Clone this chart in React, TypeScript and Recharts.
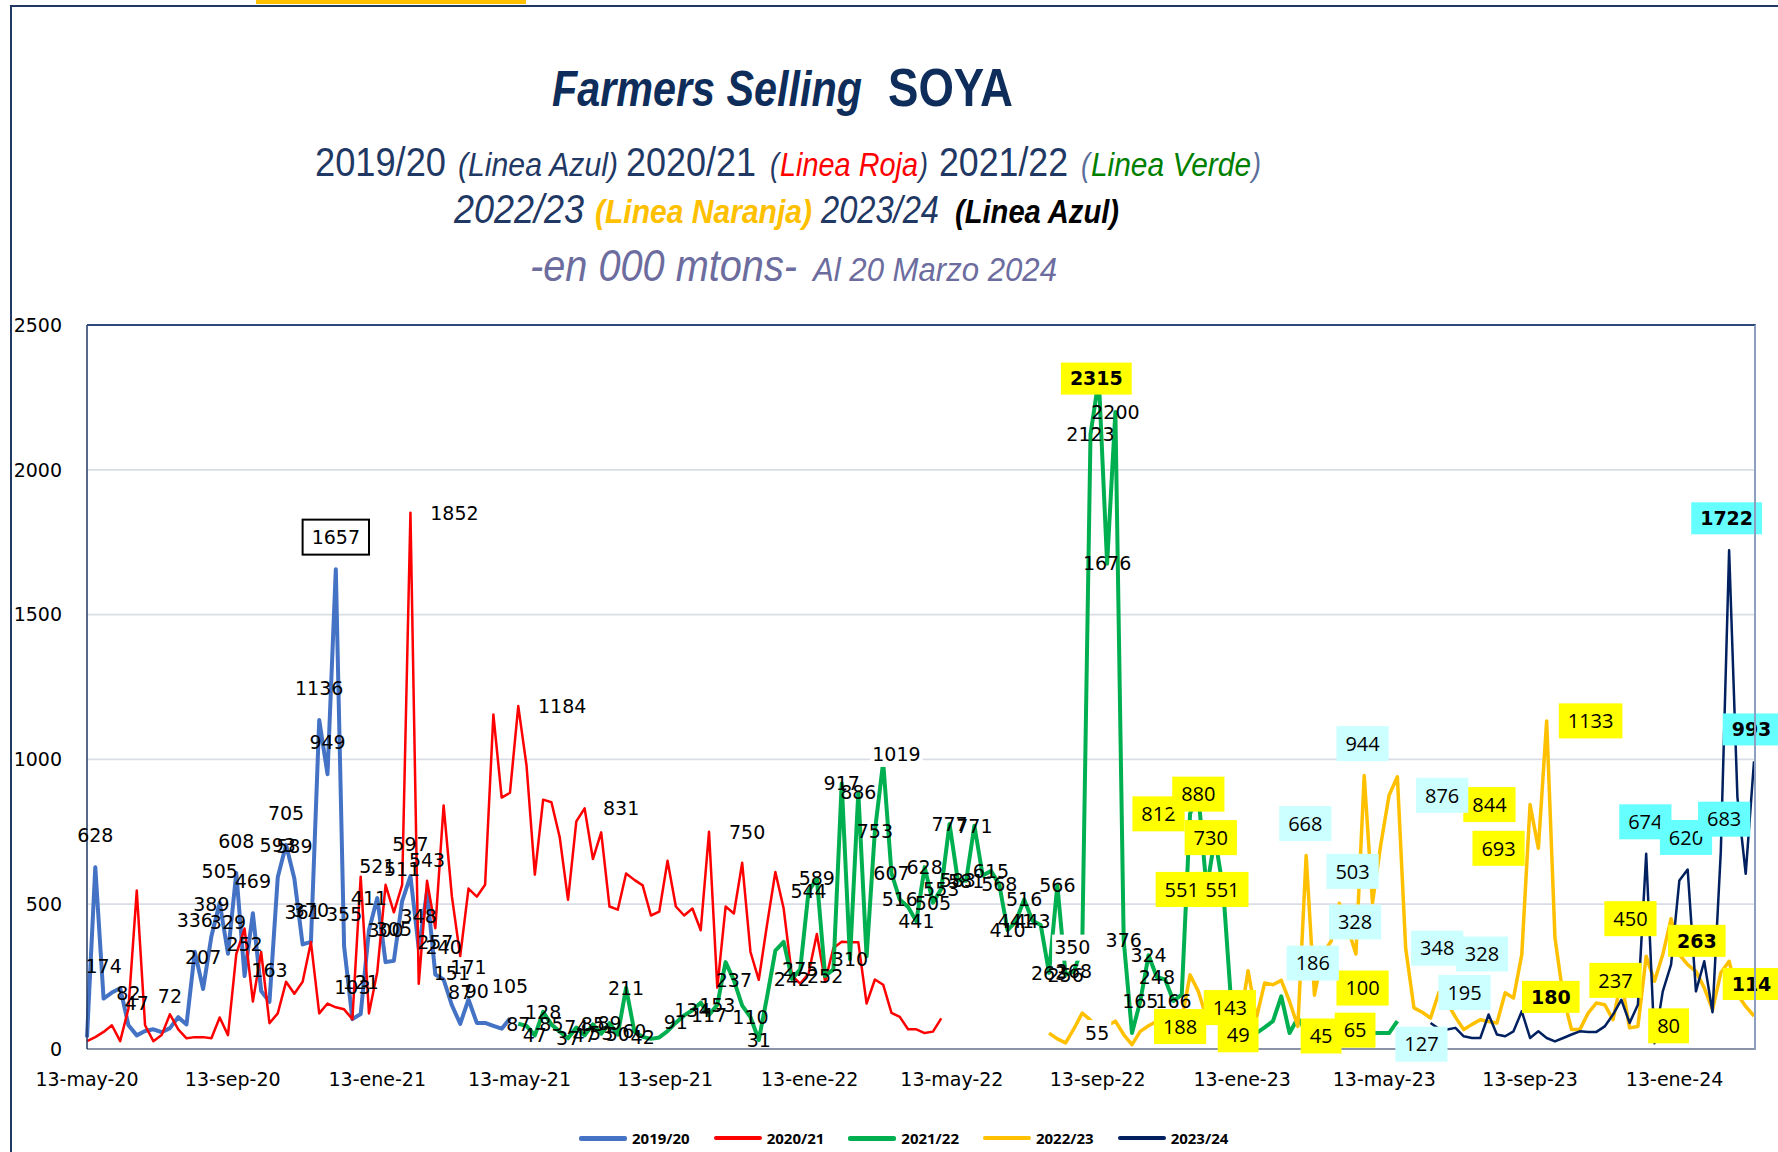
import React from 'react';
import { LineChart, Line, XAxis, YAxis, CartesianGrid, ReferenceDot } from 'recharts';

// x axis is in days from 13-may-20, one point per week
const xTickDays = [0, 123, 245, 365, 488, 610, 730, 853, 975, 1095, 1218, 1340];
const xTickLabels = ['13-may-20', '13-sep-20', '13-ene-21', '13-may-21', '13-sep-21', '13-ene-22', '13-may-22', '13-sep-22', '13-ene-23', '13-may-23', '13-sep-23', '13-ene-24'];
const yTicks = [0, 500, 1000, 1500, 2000, 2500];

const seasons = ['2019/20', '2020/21', '2021/22', '2022/23', '2023/24'];
const lineColors = ['#4472C4', '#FF0000', '#00B050', '#FFC000', '#002060'];
const lineWidths = [4, 2.5, 4, 3.5, 2.5];

// first week index of each season
const blueStart = 0;
const redStart = 0;
const greenStart = 52;
const orangeStart = 116;
const navyStart = 162;

const blue = [40, 628, 174, 195, 210, 82, 47, 62, 68, 58, 72, 110, 85, 336, 207, 389, 505, 329, 608, 252, 469, 200, 163, 593, 705, 589, 361, 370, 1136, 949, 1657, 355, 103, 121, 411, 521, 300, 305, 511, 597, 348, 543, 257, 240, 151, 87, 171, 90, 90, 80, 70, 105];

const red = [27, 41, 59, 82, 27, 140, 547, 82, 27, 48, 120, 68, 37, 41, 41, 37, 109, 48, 328, 416, 164, 335, 89, 123, 232, 191, 232, 369, 123, 157, 144, 137, 103, 595, 123, 266, 567, 472, 567, 1852, 225, 581, 417, 841, 526, 321, 554, 526, 567, 1155, 868, 885, 1184, 978, 602, 861, 852, 731, 515, 786, 831, 656, 748, 492, 481, 606, 584, 565, 461, 474, 650, 492, 461, 485, 410, 750, 212, 492, 468, 643, 335, 239, 430, 611, 485, 253, 226, 260, 397, 233, 349, 370, 369, 369, 157, 240, 222, 125, 111, 68, 68, 55, 60, 106];

const green = [87, 80, 47, 128, 85, 60, 37, 74, 47, 85, 53, 89, 50, 211, 60, 42, 35, 40, 62, 91, 116, 134, 160, 117, 153, 300, 237, 150, 110, 31, 180, 340, 370, 242, 275, 544, 589, 252, 275, 917, 310, 886, 320, 753, 990, 607, 516, 490, 441, 628, 505, 553, 777, 583, 581, 771, 599, 615, 568, 410, 441, 516, 443, 428, 263, 566, 256, 268, 350, 2123, 2315, 1676, 2200, 376, 55, 165, 324, 248, 240, 166, 188, 812, 880, 551, 730, 551, 143, 49, 50, 55, 75, 96, 182, 55, 107, 60, 45, 50, 55, 62, 58, 65, 60, 55, 55, 55, 96];

const orange = [55, 35, 21, 70, 124, 100, 55, 80, 96, 50, 15, 61, 80, 96, 110, 80, 100, 256, 199, 107, 95, 120, 100, 90, 270, 107, 228, 222, 237, 164, 78, 668, 186, 328, 372, 503, 420, 328, 944, 505, 706, 876, 940, 348, 142, 127, 107, 195, 160, 110, 67, 85, 101, 95, 90, 194, 176, 326, 844, 693, 1133, 384, 180, 67, 67, 124, 159, 153, 101, 237, 73, 78, 320, 234, 326, 450, 326, 291, 268, 211, 136, 263, 303, 188, 147, 114];

const navy = [90, 70, 67, 73, 44, 38, 38, 119, 50, 44, 61, 130, 38, 61, 38, 26, 38, 50, 61, 59, 59, 78, 119, 170, 90, 153, 674, 20, 199, 291, 582, 620, 199, 303, 127, 683, 1722, 870, 605, 993];

// value labels: [week, text]
const blueLabels: [number, string][] = [[1, '628'], [2, '174'], [5, '82'], [6, '47'], [10, '72'], [13, '336'], [14, '207'], [15, '389'], [16, '505'], [17, '329'], [18, '608'], [19, '252'], [20, '469'], [22, '163'], [23, '593'], [24, '705'], [25, '589'], [26, '361'], [27, '370'], [28, '1136'], [29, '949'], [31, '355'], [32, '103'], [33, '121'], [34, '411'], [35, '521'], [36, '300'], [37, '305'], [38, '511'], [39, '597'], [40, '348'], [41, '543'], [42, '257'], [43, '240'], [44, '151'], [45, '87'], [46, '171'], [47, '90'], [51, '105']];
const blueMax: [number, string][] = [[30, '1657']];
const redLabels: [number, string][] = [[44.3, '1852'], [57.3, '1184'], [64.4, '831'], [79.6, '750']];
const greenLabels: [number, string][] = [[52, '87'], [54, '47'], [55, '128'], [56, '85'], [58, '37'], [59, '74'], [60, '47'], [61, '85'], [62, '53'], [63, '89'], [64, '50'], [65, '211'], [66, '60'], [67, '42'], [71, '91'], [73, '134'], [75, '117'], [76, '153'], [78, '237'], [80, '110'], [81, '31'], [85, '242'], [86, '275'], [87, '544'], [88, '589'], [89, '252'], [91, '917'], [92, '310'], [93, '886'], [95, '753'], [97, '607'], [98, '516'], [100, '441'], [101, '628'], [102, '505'], [103, '553'], [104, '777'], [105, '583'], [106, '581'], [107, '771'], [109, '615'], [110, '568'], [111, '410'], [112, '441'], [113, '516'], [114, '443'], [116, '263'], [117, '566'], [118, '256'], [119, '268'], [121, '2123'], [123, '1676'], [124, '2200'], [125, '376'], [127, '165'], [128, '324'], [129, '248'], [131, '166']];
const whiteLabels: [number, string][] = [[97.6, '1019'], [118.8, '350'], [121.8, '55']];
const yellowCenter: [number, string][] = [[121.7, '2315'], [129.2, '812'], [134, '880'], [135.5, '730'], [132, '551'], [136.9, '551'], [137.8, '143'], [138.8, '49'], [148.8, '45'], [152.9, '65'], [169.1, '844'], [170.2, '693'], [181.3, '1133'], [176.5, '180'], [184.3, '237'], [190.7, '80'], [186.1, '450']];
const yellowTop: [number, string][] = [[153.8, '100'], [194.1, '263'], [200.7, '114']];
const yellowBelow: [number, string][] = [[131.8, '188']];
const paleTop: [number, string][] = [[146.9, '668'], [147.8, '186'], [152.6, '503'], [152.9, '328'], [153.8, '944']];
const paleCenter: [number, string][] = [[163.4, '876'], [162.8, '348'], [168.2, '328'], [166.1, '195']];
const paleBelow: [number, string][] = [[160.9, '127']];
const cyanTop: [number, string][] = [[187.9, '674'], [192.8, '620'], [197.4, '683'], [197.7, '1722'], [200.7, '993']];
const boldTexts = ['2315', '180', '263', '114', '1722', '993'];

const pts = (start: number, vals: number[]) => vals.map((v, k) => ({ d: (start + k) * 7, v }));
const series = [pts(blueStart, blue), pts(redStart, red), pts(greenStart, green), pts(orangeStart, orange), pts(navyStart, navy)];

type TagStyle = { place: 't' | 'c' | 'b'; bg?: string; border?: string; os?: boolean };

function Tag(props: any) {
  const { cx, cy, text, st } = props as { cx: number; cy: number; text: string; st: TagStyle };
  const bold = boldTexts.includes(text) && !!st.os;
  const y = cy + (st.place === 't' ? -32 : st.place === 'b' ? 32 : 0);
  const fam = st.os && !bold ? 'Open Sans' : 'DejaVu Sans';
  const fs = st.os && !bold ? 20 : 19;
  const cw = bold ? 13.2 : st.os ? 11.4 : 12.1;
  const boxed = !!st.os || !!st.border;
  const w = text.length * cw + (boxed ? 18 : 4);
  const h = boxed ? (bold ? 32 : 35) : 26;
  return (
    <g>
      {st.bg && (
        <rect x={cx - w / 2} y={y - h / 2} width={w} height={h} fill={st.bg} stroke={st.border || 'none'} strokeWidth={2} />
      )}
      <text x={cx} y={y} dy="0.36em" textAnchor="middle" fontFamily={fam} fontSize={fs} fontWeight={bold ? 700 : 400} fill="#000">
        {text}
      </text>
    </g>
  );
}

const tags = (list: [number, string][], st: TagStyle, key: string) =>
  list.map(([w, t], k) => (
    <ReferenceDot key={key + k} x={w * 7} y={Number(t)} r={0} ifOverflow="visible" shape={(p: any) => <Tag {...p} text={t} st={st} />} />
  ));

const navyText = '#1F3864';
const titleFont = "'Liberation Sans', sans-serif";

// title pieces squeezed to the narrow look of the original
type Piece = { t: string; x: number; w: number; size: number; fill: string; italic?: boolean; bold?: boolean };
function TitleRow({ y, pieces }: { y: number; pieces: Piece[] }) {
  return (
    <>
      {pieces.map((p, k) => (
        <text
          key={k}
          x={p.x}
          y={y}
          textLength={p.w}
          lengthAdjust="spacingAndGlyphs"
          fontFamily={titleFont}
          fontSize={p.size}
          fontStyle={p.italic ? 'italic' : 'normal'}
          fontWeight={p.bold ? 700 : 400}
          fill={p.fill}
        >
          {p.t}
        </text>
      ))}
    </>
  );
}

const App = () => {
  return (
    <div style={{ position: 'absolute', left: 0, top: 0, width: 1778, height: 1152, background: '#fff', overflow: 'hidden' }}>
      {/* outer frame */}
      <div style={{ position: 'absolute', left: 10, top: 5, width: 1800, height: 1200, borderLeft: '2.5px solid #1F3864', borderTop: '2.5px solid #1F3864' }} />
      <div style={{ position: 'absolute', left: 256, top: 0, width: 270, height: 4, background: '#FFC000' }} />

      <svg width={1778} height={300} style={{ position: 'absolute', left: 0, top: 0 }}>
        <TitleRow
          y={106}
          pieces={[
            { t: 'Farmers Selling', x: 552, w: 310, size: 50, fill: '#0E2D5A', italic: true, bold: true },
            { t: 'SOYA', x: 888, w: 125, size: 53, fill: '#0E2D5A', bold: true },
          ]}
        />
        <TitleRow
          y={176}
          pieces={[
            { t: '2019/20', x: 315, w: 131, size: 40, fill: navyText },
            { t: '(Linea Azul)', x: 458, w: 160, size: 34, fill: navyText, italic: true },
            { t: '2020/21', x: 626, w: 130, size: 40, fill: navyText },
            { t: '(', x: 770, w: 9, size: 34, fill: navyText, italic: true },
            { t: 'Linea Roja', x: 780, w: 138, size: 34, fill: '#FF0000', italic: true },
            { t: ')', x: 919, w: 9, size: 34, fill: navyText, italic: true },
            { t: '2021/22', x: 939, w: 129, size: 40, fill: navyText },
            { t: '(', x: 1081, w: 9, size: 34, fill: '#5B6E9A', italic: true },
            { t: 'Linea Verde', x: 1091, w: 160, size: 34, fill: '#008000', italic: true },
            { t: ')', x: 1252, w: 9, size: 34, fill: '#5B6E9A', italic: true },
          ]}
        />
        <TitleRow
          y={223}
          pieces={[
            { t: '2022/23', x: 454, w: 130, size: 40, fill: navyText, italic: true },
            { t: '(Linea Naranja)', x: 595, w: 217, size: 34, fill: '#FFC000', italic: true, bold: true },
            { t: '2023/24', x: 821, w: 118, size: 38, fill: navyText, italic: true },
            { t: '(Linea Azul)', x: 955, w: 164, size: 34, fill: '#000', italic: true, bold: true },
          ]}
        />
        <TitleRow
          y={281}
          pieces={[
            { t: '-en 000 mtons-', x: 530, w: 267, size: 44, fill: '#6C6C9E', italic: true },
            { t: 'Al 20 Marzo 2024', x: 813, w: 244, size: 33, fill: '#6C6C9E', italic: true },
          ]}
        />
      </svg>

      <div style={{ position: 'absolute', left: 0, top: 0 }}>
        <LineChart width={1778} height={1152} margin={{ top: 325, right: 24, bottom: 43, left: 0 }}>
          <CartesianGrid vertical={false} stroke="#D9DDE6" strokeWidth={1.8} />
          <XAxis
            dataKey="d"
            type="number"
            domain={[0, 1407]}
            ticks={xTickDays}
            interval={0}
            height={60}
            tickFormatter={(d: number) => xTickLabels[xTickDays.indexOf(d)] ?? ''}
            tick={{ fill: '#000', fontSize: 19, fontFamily: 'DejaVu Sans' }}
            tickLine={false}
            tickSize={0}
            tickMargin={24}
            axisLine={{ stroke: '#8A94A6', strokeWidth: 2 }}
          />
          <YAxis
            type="number"
            domain={[0, 2500]}
            ticks={yTicks}
            interval={0}
            width={87}
            tick={{ fill: '#000', fontSize: 19, fontFamily: 'DejaVu Sans' }}
            tickLine={false}
            tickSize={0}
            tickMargin={25}
            axisLine={{ stroke: '#1F3864', strokeWidth: 1.5 }}
          />
          {series.map((s, k) => (
            <Line
              key={seasons[k]}
              data={s}
              dataKey="v"
              name={seasons[k]}
              type="linear"
              stroke={lineColors[k]}
              strokeWidth={lineWidths[k]}
              strokeLinejoin="round"
              dot={false}
              activeDot={false}
              isAnimationActive={false}
            />
          ))}
          {tags(blueLabels, { place: 't' }, 'b')}
          {tags(blueMax, { place: 't', bg: '#FFFFFF', border: '#000' }, 'bm')}
          {tags(redLabels, { place: 'c' }, 'r')}
          {tags(greenLabels, { place: 'c' }, 'g')}
          {tags(whiteLabels, { place: 'c', bg: '#FFFFFF' }, 'w')}
          {tags(yellowCenter, { place: 'c', bg: '#FFFF00', os: true }, 'yc')}
          {tags(yellowTop, { place: 't', bg: '#FFFF00', os: true }, 'yt')}
          {tags(yellowBelow, { place: 'b', bg: '#FFFF00', os: true }, 'yb')}
          {tags(paleTop, { place: 't', bg: '#CCFFFF', os: true }, 'pt')}
          {tags(paleCenter, { place: 'c', bg: '#CCFFFF', os: true }, 'pc')}
          {tags(paleBelow, { place: 'b', bg: '#CCFFFF', os: true }, 'pb')}
          {tags(cyanTop, { place: 't', bg: '#66FFFF', os: true }, 'ct')}
        </LineChart>
      </div>

      {/* plot frame top / right */}
      <div style={{ position: 'absolute', left: 87, top: 324, width: 1667, height: 724, borderTop: '2px solid #2E4A7D', borderRight: '2px solid #8EA0BF', pointerEvents: 'none' }} />

      {/* legend */}
      <div style={{ position: 'absolute', left: 579, top: 1128, display: 'flex', gap: 24, alignItems: 'center', fontFamily: 'Open Sans', fontWeight: 700, fontSize: 15, color: '#000' }}>
        {seasons.map((s, k) => (
          <div key={s} style={{ display: 'flex', alignItems: 'center' }}>
            <div style={{ width: 48, height: lineWidths[k] + 1, background: lineColors[k], borderRadius: 2, marginRight: 5 }} />
            <span>{s}</span>
          </div>
        ))}
      </div>
    </div>
  );
};

export default App;
